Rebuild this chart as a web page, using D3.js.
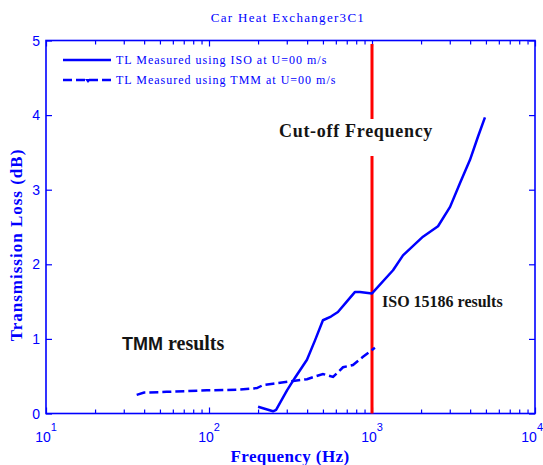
<!DOCTYPE html>
<html>
<head>
<meta charset="utf-8">
<script src="https://cdn.jsdelivr.net/npm/d3@7"></script>
<style>
  html, body { margin: 0; padding: 0; background: #fff; }
  svg { display: block; }
</style>
</head>
<body>
<svg id="chart" width="543" height="465"></svg>
<script>
// Transmission loss of a car heat exchanger: ISO 15186 measurement vs TMM prediction
const isoFreq = [200, 247, 258, 301, 337, 399, 447, 500, 560, 618, 700, 787, 843, 1000, 1346, 1549, 2055, 2541, 3013, 3468, 3993, 4467, 4931];
const isoTL   = [0.09, 0.03, 0.05, 0.31, 0.48, 0.72, 0.98, 1.25, 1.30, 1.36, 1.50, 1.63, 1.63, 1.61, 1.92, 2.12, 2.37, 2.51, 2.77, 3.09, 3.40, 3.71, 3.97];

const tmmFreq = [36, 40, 55, 97, 150, 197, 214, 247, 314, 399, 500, 577, 664, 764, 881, 1042];
const tmmTL   = [0.25, 0.28, 0.29, 0.31, 0.32, 0.34, 0.38, 0.40, 0.43, 0.46, 0.53, 0.49, 0.62, 0.65, 0.76, 0.88];

const cutoffFreq = 1000;

const xMajor = [10, 100, 1000, 10000];
const xExponents = ["1", "2", "3", "4"];
const yTicks = [0, 1, 2, 3, 4, 5];

const titleText = "Car Heat Exchanger3C1";
const xTitle = "Frequency (Hz)";
const yTitle = "Transmission Loss (dB)";
const legendLabels = ["TL Measured using ISO at U=00 m/s", "TL Measured using TMM at U=00 m/s"];

const BLUE = "#0000ff";
const svg = d3.select("#chart");

const plot = { left: 46, right: 535, top: 40.5, bottom: 413.5 };

const x = d3.scaleLog().domain([10, 10000]).range([plot.left, plot.right]);
const y = d3.scaleLinear().domain([0, 5]).range([plot.bottom, plot.top]);

// minor ticks 2..9 of every decade
const xMinor = [];
xMajor.slice(0, -1).forEach(d => { for (let k = 2; k <= 9; k++) xMinor.push(d * k); });

// axes with inward ticks on all four sides
function styleAxis(g) {
  g.select(".domain").remove();
  g.selectAll("line").attr("stroke", BLUE).attr("stroke-width", 1.2);
  g.selectAll("text").remove();
}
svg.append("g").attr("transform", `translate(0,${plot.bottom})`)
  .call(d3.axisBottom(x).tickValues(xMajor).tickSize(-6)).call(styleAxis);
svg.append("g").attr("transform", `translate(0,${plot.bottom})`)
  .call(d3.axisBottom(x).tickValues(xMinor).tickSize(-4)).call(styleAxis);
svg.append("g").attr("transform", `translate(0,${plot.top})`)
  .call(d3.axisTop(x).tickValues(xMajor).tickSize(-6)).call(styleAxis);
svg.append("g").attr("transform", `translate(0,${plot.top})`)
  .call(d3.axisTop(x).tickValues(xMinor).tickSize(-4)).call(styleAxis);
svg.append("g").attr("transform", `translate(${plot.left},0)`)
  .call(d3.axisLeft(y).tickValues(yTicks).tickSize(-6)).call(styleAxis);
svg.append("g").attr("transform", `translate(${plot.right},0)`)
  .call(d3.axisRight(y).tickValues(yTicks).tickSize(-6)).call(styleAxis);

// plot box
svg.append("rect")
  .attr("x", plot.left).attr("y", plot.top)
  .attr("width", plot.right - plot.left).attr("height", plot.bottom - plot.top)
  .attr("fill", "none").attr("stroke", BLUE).attr("stroke-width", 1.6);

// y tick labels
svg.append("g").selectAll("text").data(yTicks).join("text")
  .attr("x", plot.left - 6).attr("y", d => y(d) + 5)
  .attr("text-anchor", "end")
  .attr("font-family", "Liberation Sans, Arial, sans-serif")
  .attr("font-size", 14).attr("fill", BLUE)
  .text(d => d);

// x tick labels: 10 with superscript exponent (last one kept inside the page)
const xl = svg.append("g").selectAll("text").data(xMajor).join("text")
  .attr("x", (d, i) => i === xMajor.length - 1 ? 543 : x(d)).attr("y", 442)
  .attr("text-anchor", (d, i) => i === xMajor.length - 1 ? "end" : "middle")
  .attr("font-family", "Liberation Sans, Arial, sans-serif")
  .attr("font-size", 14).attr("fill", BLUE);
xl.append("tspan").text("10");
xl.append("tspan").attr("dy", -11).attr("font-size", 11).text((d, i) => xExponents[i]);

// title and axis titles
svg.append("text").attr("x", 288).attr("y", 22).attr("text-anchor", "middle")
  .attr("font-family", "Liberation Serif, Times New Roman, serif")
  .attr("font-size", 13).attr("letter-spacing", 1.3).attr("fill", BLUE)
  .text(titleText);
svg.append("text").attr("x", 290).attr("y", 462).attr("text-anchor", "middle")
  .attr("font-family", "Liberation Serif, Times New Roman, serif")
  .attr("font-weight", "bold").attr("font-size", 17).attr("letter-spacing", 0.4).attr("fill", BLUE)
  .text(xTitle);
svg.append("text").attr("transform", "translate(22,245) rotate(-90)").attr("text-anchor", "middle")
  .attr("font-family", "Liberation Serif, Times New Roman, serif")
  .attr("font-weight", "bold").attr("font-size", 17).attr("letter-spacing", 1).attr("fill", BLUE)
  .text(yTitle);

// cut-off frequency marker
svg.append("line")
  .attr("x1", x(cutoffFreq)).attr("x2", x(cutoffFreq))
  .attr("y1", 44).attr("y2", plot.bottom)
  .attr("stroke", "#ff0000").attr("stroke-width", 3);

// data curves
const line = d3.line().x(d => x(d[0])).y(d => y(d[1]));
svg.append("path")
  .datum(isoFreq.map((f, i) => [f, isoTL[i]]))
  .attr("d", line).attr("fill", "none")
  .attr("stroke", BLUE).attr("stroke-width", 2.5).attr("stroke-linejoin", "round");
svg.append("path")
  .datum(tmmFreq.map((f, i) => [f, tmmTL[i]]))
  .attr("d", line).attr("fill", "none")
  .attr("stroke", BLUE).attr("stroke-width", 2.5).attr("stroke-dasharray", "9,4");

// legend
const lg = svg.append("g");
lg.append("line").attr("x1", 63).attr("x2", 111).attr("y1", 60).attr("y2", 60)
  .attr("stroke", BLUE).attr("stroke-width", 2.5);
lg.append("line").attr("x1", 63).attr("x2", 111).attr("y1", 80).attr("y2", 80)
  .attr("stroke", BLUE).attr("stroke-width", 2.5).attr("stroke-dasharray", "9,4");
lg.append("path").attr("d", "M85,79 L91,79 L88,83 Z").attr("fill", BLUE);
lg.selectAll("text").data(legendLabels).join("text")
  .attr("x", 116).attr("y", (d, i) => 64 + i * 20)
  .attr("font-family", "Liberation Serif, Times New Roman, serif")
  .attr("font-size", 12).attr("letter-spacing", 1).attr("fill", BLUE)
  .text(d => d);

// annotations
const NOTE = "#141414";
svg.append("rect").attr("x", 275).attr("y", 119).attr("width", 160).attr("height", 37).attr("fill", "#fff");
svg.append("text").attr("x", 279).attr("y", 137)
  .attr("font-family", "Liberation Serif, Times New Roman, serif")
  .attr("font-weight", "bold").attr("font-size", 18).attr("letter-spacing", 0.7).attr("fill", NOTE)
  .text("Cut-off Frequency");

const tmmNote = svg.append("text").attr("x", 122).attr("y", 350)
  .attr("font-weight", "bold").attr("fill", NOTE);
tmmNote.append("tspan").attr("font-family", "Liberation Sans, Arial, sans-serif").attr("font-size", 18).text("TMM ");
tmmNote.append("tspan").attr("font-family", "Liberation Serif, Times New Roman, serif").attr("font-size", 20).text("results");

svg.append("text").attr("x", 382).attr("y", 307)
  .attr("font-family", "Liberation Serif, Times New Roman, serif")
  .attr("font-weight", "bold").attr("font-size", 16).attr("fill", NOTE)
  .text("ISO 15186 results");
</script>
</body>
</html>
